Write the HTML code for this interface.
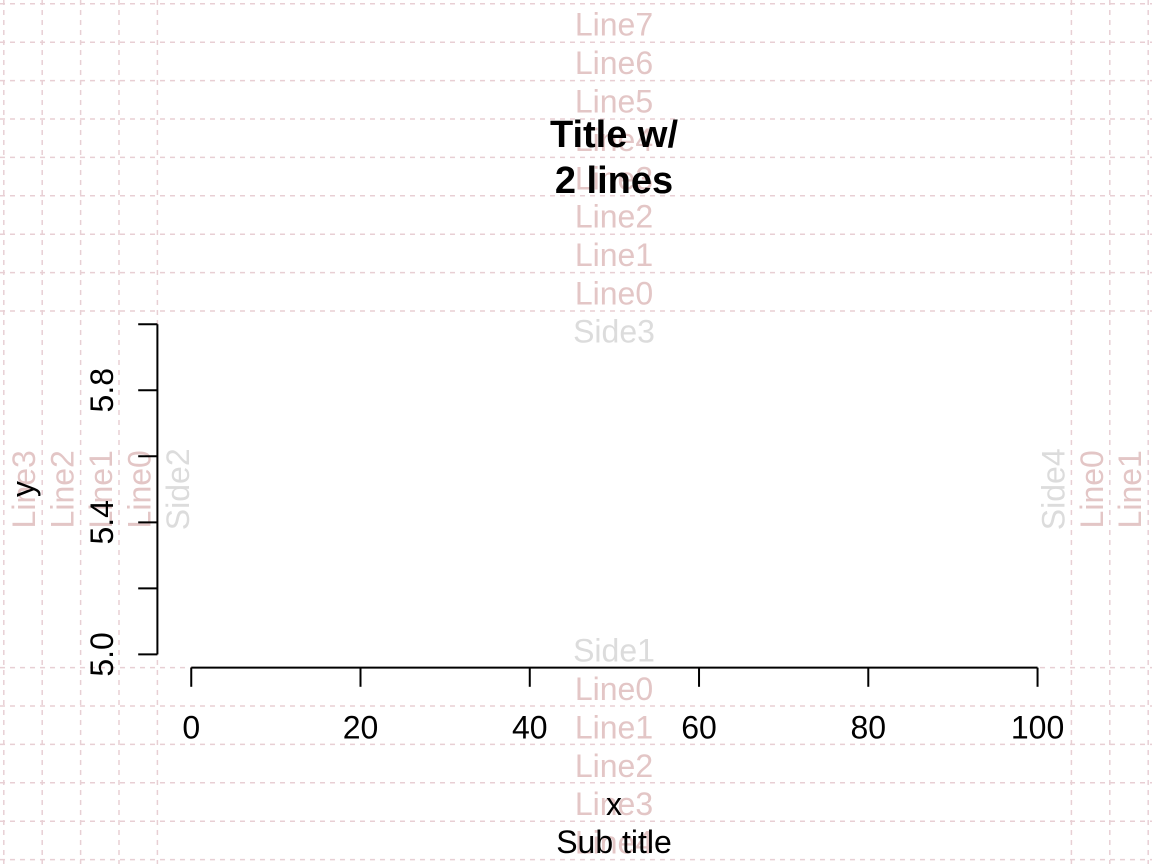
<!DOCTYPE html>
<html><head><meta charset="utf-8"><style>
html,body{margin:0;padding:0;background:#fff}
svg{display:block;font-family:"Liberation Sans",Arial,sans-serif}
</style></head><body>
<svg id="chart" width="1152" height="864" viewBox="0 0 1152 864" xmlns="http://www.w3.org/2000/svg">
<g id="grid"></g>
<g id="mlabels"></g>
<g id="axes"></g>
<text x="614" y="147" font-size="38" font-weight="bold" text-anchor="middle">Title w/</text>
<text x="614" y="193" font-size="38" font-weight="bold" text-anchor="middle">2 lines</text>
<text x="614" y="815" font-size="32" text-anchor="middle">x</text>
<text x="614" y="853" font-size="32" text-anchor="middle">Sub title</text>
<text transform="translate(34,489) rotate(-90)" font-size="32" text-anchor="middle">y</text>
</svg>
<script>
const xTicks = [0, 20, 40, 60, 80, 100];
const yTicks = [5.0, 5.2, 5.4, 5.6, 5.8, 6.0];
const yTickLabels = ["5.0", "", "5.4", "", "5.8", ""];
const xDomain = [0, 100];
const yDomain = [5, 6];

const NS = "http://www.w3.org/2000/svg";
const L = 157.4, R = 1071.4, T = 311, B = 667.6, LH = 38.4;
function sx(v){const ext=(xDomain[1]-xDomain[0])*0.04;return L+(v-xDomain[0]+ext)/(xDomain[1]-xDomain[0]+2*ext)*(R-L);}
function sy(v){const ext=(yDomain[1]-yDomain[0])*0.04;return B-(v-yDomain[0]+ext)/(yDomain[1]-yDomain[0]+2*ext)*(B-T);}
function mk(tag, attrs, parent){const e=document.createElementNS(NS,tag);for(const k in attrs)e.setAttribute(k,attrs[k]);parent.appendChild(e);return e;}

const grid=document.getElementById('grid');
const lineCol="#e8cfd4";
for(let k=0;k<=8;k++){const y=T-LH*k;const e=mk('line',{x1:0,x2:1152,y1:y,y2:y,stroke:lineCol,'stroke-width':1.5,'stroke-dasharray':'5,5'},grid);

}
for(let k=0;k<=5;k++){const y=B+LH*k;const e=mk('line',{x1:0,x2:1152,y1:y,y2:y,stroke:lineCol,'stroke-width':1.5,'stroke-dasharray':'5,5'},grid);

}
for(let k=0;k<=4;k++){const x=L-LH*k;const e=mk('line',{x1:x,x2:x,y1:0,y2:864,stroke:lineCol,'stroke-width':1.5,'stroke-dasharray':'5,5'},grid);

}
for(let k=0;k<=2;k++){const x=R+LH*k;const e=mk('line',{x1:x,x2:x,y1:0,y2:864,stroke:lineCol,'stroke-width':1.5,'stroke-dasharray':'5,5'},grid);

}

const ml=document.getElementById('mlabels');
const pink="#e3c6c6", grey="#dcdcdc";
const cx=614, cy=489.3;
function txt(s,attrs,col){const e=mk('text',Object.assign({'font-size':32,fill:col,'text-anchor':'middle'},attrs),ml);e.textContent=s;return e;}
for(let k=0;k<=7;k++){const e=txt('Line'+k,{x:cx,y:T-LH*k-6.5},pink);

}
{const e=txt('Side3',{x:cx,y:T+LH-7},grey);

}
for(let k=0;k<=4;k++){const e=txt('Line'+k,{x:cx,y:B+LH*(k+1)-6},pink);

}
{const e=txt('Side1',{x:cx,y:B-6},grey);

}
for(let k=0;k<=3;k++){const x=L-LH*k-7;const e=txt('Line'+k,{transform:`translate(${x},${cy}) rotate(-90)`},pink);

}
{const x=L+LH-7;const e=txt('Side2',{transform:`translate(${x},${cy}) rotate(-90)`},grey);

}
for(let k=0;k<=1;k++){const x=R+LH*(k+1)-7;const e=txt('Line'+k,{transform:`translate(${x},${cy}) rotate(-90)`},pink);

}
{const x=R-7;const e=txt('Side4',{transform:`translate(${x},${cy}) rotate(-90)`},grey);

}

const ax=document.getElementById('axes');
{const e=mk('line',{x1:sx(xTicks[0]),x2:sx(xTicks[xTicks.length-1]),y1:B,y2:B,stroke:'#000','stroke-width':2},ax);

}
xTicks.forEach(v=>{const x=sx(v);
const t=mk('line',{x1:x,x2:x,y1:B,y2:B+19.2,stroke:'#000','stroke-width':2},ax);


const l=mk('text',{x:x,y:B+LH*2-6,'font-size':32,'text-anchor':'middle',fill:'#000'},ax);l.textContent=String(v);

});
{const e=mk('line',{x1:L,x2:L,y1:sy(yTicks[0]),y2:sy(yTicks[yTicks.length-1]),stroke:'#000','stroke-width':2},ax);

}
yTicks.forEach((v,i)=>{const y=sy(v);
const t=mk('line',{x1:L-19.2,x2:L,y1:y,y2:y,stroke:'#000','stroke-width':2},ax);


if(yTickLabels[i]){const l=mk('text',{transform:`translate(${L-LH*1-7+1},${y}) rotate(-90)`,'font-size':32,'text-anchor':'middle',fill:'#000'},ax);l.textContent=yTickLabels[i];

}});
</script>
</body></html>
